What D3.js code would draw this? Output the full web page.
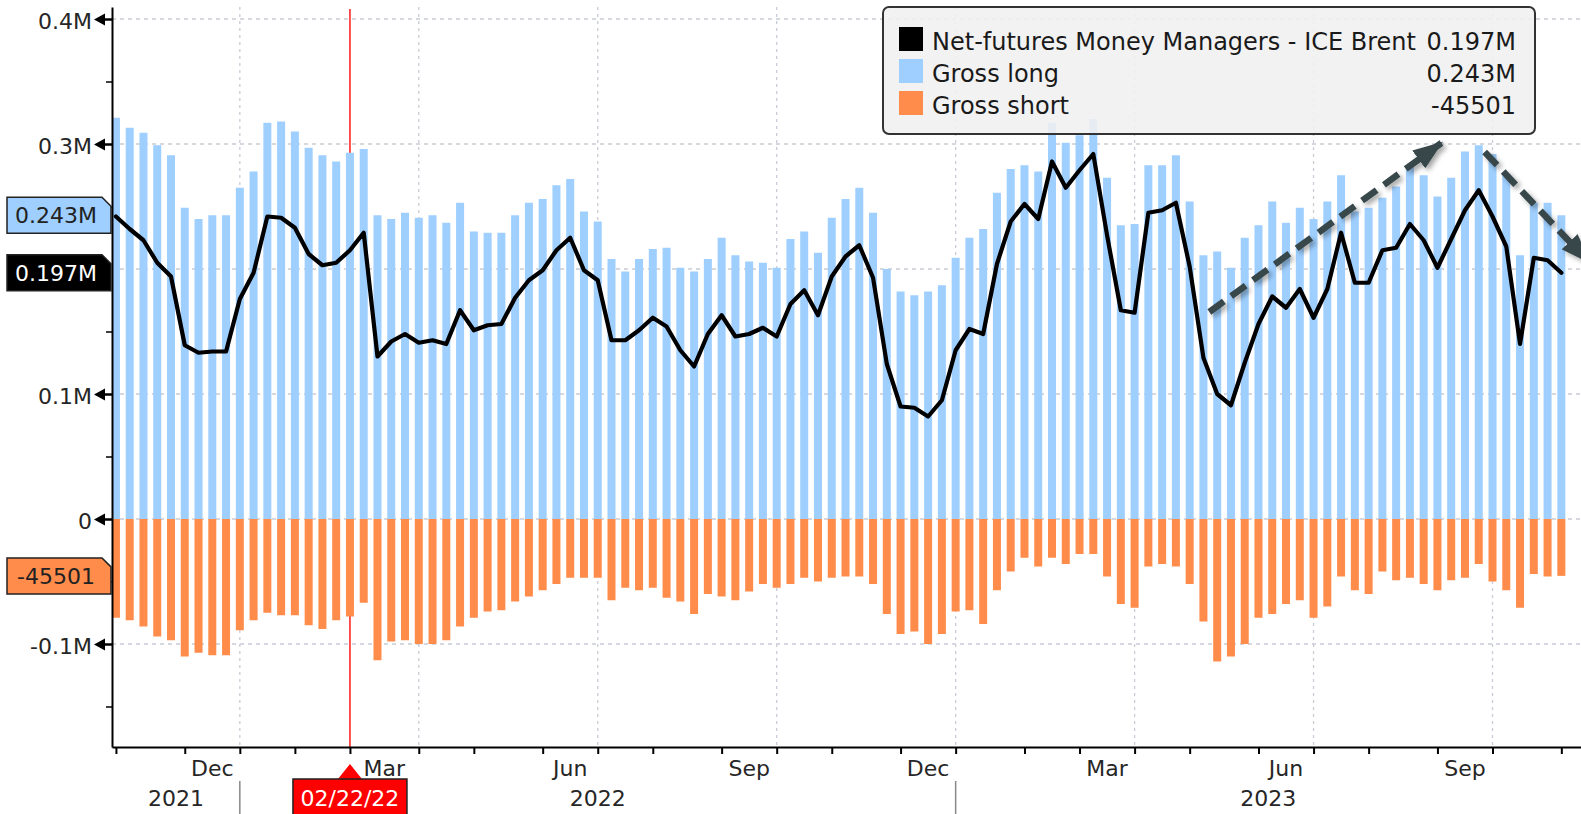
<!DOCTYPE html>
<html>
<head>
<meta charset="UTF-8">
<script src="https://cdn.jsdelivr.net/npm/d3@7/dist/d3.min.js"></script>
<style>
body{
    margin:0;
    background:#fff;
    font-family:"DejaVu Sans", Verdana, sans-serif;
}
.axis text{ font-size:22px; fill:#262626; }
.grid line{ stroke:#c9cbd6; stroke-width:1.3; }
</style>
</head>
<body>
<script>

// weekly values, in millions (Oct 26 2021 .. Oct 31 2023)
var grossLong = [0.321,0.313,0.309,0.299,0.291,0.249,0.240,0.243,0.243,0.265,
    0.278,0.317,0.318,0.310,0.297,0.291,0.286,0.293,0.296,0.243,
    0.240,0.245,0.241,0.243,0.237,0.253,0.230,0.229,0.229,0.243,
    0.253,0.256,0.267,0.272,0.246,0.238,0.208,0.198,0.208,0.216,
    0.217,0.201,0.198,0.208,0.225,0.211,0.206,0.205,0.201,0.224,
    0.230,0.213,0.241,0.256,0.265,0.245,0.200,0.182,0.179,0.182,
    0.187,0.209,0.225,0.232,0.261,0.280,0.283,0.278,0.317,0.301,
    0.307,0.320,0.273,0.235,0.236,0.283,0.283,0.291,0.254,0.211,
    0.214,0.201,0.225,0.235,0.254,0.237,0.249,0.240,0.254,0.275,
    0.246,0.249,0.257,0.266,0.283,0.275,0.258,0.273,0.294,0.299,
    0.292,0.275,0.211,0.253,0.253,0.243];

var grossShort = [-0.079,-0.081,-0.086,-0.094,-0.097,-0.110,-0.107,-0.109,-0.109,-0.089,
    -0.081,-0.075,-0.077,-0.077,-0.085,-0.088,-0.081,-0.078,-0.067,-0.113,
    -0.098,-0.097,-0.100,-0.100,-0.097,-0.086,-0.079,-0.074,-0.073,-0.066,
    -0.062,-0.057,-0.052,-0.047,-0.047,-0.047,-0.065,-0.055,-0.057,-0.055,
    -0.063,-0.066,-0.076,-0.060,-0.062,-0.065,-0.058,-0.052,-0.055,-0.052,
    -0.047,-0.050,-0.047,-0.046,-0.046,-0.052,-0.076,-0.092,-0.090,-0.100,
    -0.092,-0.074,-0.073,-0.084,-0.057,-0.042,-0.031,-0.038,-0.031,-0.036,
    -0.028,-0.028,-0.046,-0.068,-0.071,-0.038,-0.036,-0.038,-0.052,-0.082,
    -0.114,-0.110,-0.100,-0.079,-0.076,-0.068,-0.065,-0.079,-0.070,-0.046,
    -0.057,-0.060,-0.042,-0.049,-0.047,-0.052,-0.057,-0.049,-0.047,-0.036,
    -0.050,-0.057,-0.071,-0.044,-0.046,-0.0455];

var netFutures = [0.242,0.232,0.223,0.205,0.194,0.139,0.133,0.134,0.134,0.176,
    0.197,0.242,0.241,0.233,0.212,0.203,0.205,0.215,0.229,0.130,
    0.142,0.148,0.141,0.143,0.140,0.167,0.151,0.155,0.156,0.177,
    0.191,0.199,0.215,0.225,0.199,0.191,0.143,0.143,0.151,0.161,
    0.154,0.135,0.122,0.148,0.163,0.146,0.148,0.153,0.146,0.172,
    0.183,0.163,0.194,0.210,0.219,0.193,0.124,0.090,0.089,0.082,
    0.095,0.135,0.152,0.148,0.204,0.238,0.252,0.240,0.286,0.265,
    0.279,0.292,0.227,0.167,0.165,0.245,0.247,0.253,0.202,0.129,
    0.100,0.091,0.125,0.156,0.178,0.169,0.184,0.161,0.184,0.229,
    0.189,0.189,0.215,0.217,0.236,0.223,0.201,0.224,0.247,0.263,
    0.242,0.218,0.140,0.209,0.207,0.197];

var legendNames = ["Net-futures Money Managers - ICE Brent", "Gross long", "Gross short"];
var legendValues = ["0.197M", "0.243M", "-45501"];
var colors = ["#000000", "#9ecfff", "#ff8c4b"];
var yTicks = [-0.1, 0, 0.1, 0.3, 0.4];
var yMinor = [-0.15, -0.05, 0.05, 0.15, 0.25, 0.35];
var yGrid = [-0.1, 0, 0.1, 0.2, 0.3, 0.4];
var quarterMonths = {11:"Dec", 2:"Mar", 5:"Jun", 8:"Sep"};
var yearLabels = ["2021", "2022", "2023"];
var markerDate = new Date(2022, 1, 22);
var markerLabel = "02/22/22";
// trend annotations: [date, value] -> [date, value]
var trendArrows = [
    {from:[new Date(2023,4,5), 0.1656], to:[new Date(2023,7,31), 0.3008]},
    {from:[new Date(2023,8,22), 0.2936], to:[new Date(2023,10,14), 0.2056]}
];

var width = 1581, height = 814;
var plotL = 112, plotT = 7, plotB = 747, plotR = 1581;

var dates = d3.timeTuesday.range(new Date(2021, 9, 26), new Date(2023, 10, 1));
var data = dates.map(function(d, i){
    return {date:d, long:grossLong[i], short:grossShort[i], net:netFutures[i]};
});

var x = d3.scaleTime()
    .domain([new Date(2021, 9, 24), new Date(2023, 10, 10)])
    .range([plotL, plotR]);
var y = d3.scaleLinear()
    .domain([-0.1824, 0.4096])
    .range([plotB, plotT]);

var svg = d3.select("body").append("svg")
    .attr("width", width)
    .attr("height", height)
    .style("display", "block");

var defs = svg.append("defs");
defs.append("clipPath").attr("id", "plot")
    .append("rect").attr("x", plotL).attr("y", plotT).attr("width", plotR - plotL).attr("height", plotB - plotT);
var shadow = defs.append("filter").attr("id", "shadow")
    .attr("x", "-20%").attr("y", "-20%").attr("width", "140%").attr("height", "140%");
shadow.append("feDropShadow").attr("dx", 3).attr("dy", 3).attr("stdDeviation", 2.5)
    .attr("flood-color", "#000").attr("flood-opacity", 0.35);
defs.append("marker").attr("id", "head")
    .attr("viewBox", "0 0 30 22").attr("refX", 28).attr("refY", 11)
    .attr("markerWidth", 30).attr("markerHeight", 22)
    .attr("markerUnits", "userSpaceOnUse").attr("orient", "auto")
    .append("path").attr("d", "M0,0 L30,11 L0,22 Z").attr("fill", "#37474a");

// month-end ticks (last weekly date of each month)
var monthTicks = dates.filter(function(d, i){
    return i === dates.length - 1 || dates[i + 1].getMonth() !== d.getMonth();
});
var quarterTicks = monthTicks.filter(function(d){ return quarterMonths[d.getMonth()] !== undefined; });
var yearTicks = monthTicks.filter(function(d){ return d.getMonth() === 11; });

// grid
var grid = svg.append("g").attr("class", "grid");
grid.selectAll(".h").data(yGrid).enter().append("line")
    .attr("x1", plotL).attr("x2", plotR)
    .attr("y1", function(d){ return y(d); }).attr("y2", function(d){ return y(d); })
    .attr("stroke-dasharray", "4,4");
grid.selectAll(".v").data(quarterTicks).enter().append("line")
    .attr("x1", function(d){ return x(d); }).attr("x2", function(d){ return x(d); })
    .attr("y1", plotT).attr("y2", plotB)
    .attr("stroke-dasharray", "3,4");

// red marker line
svg.append("line")
    .attr("x1", x(markerDate)).attr("x2", x(markerDate))
    .attr("y1", plotT + 2).attr("y2", plotB)
    .attr("stroke", "#ff1a1a").attr("stroke-width", 1.5);

var plot = svg.append("g").attr("clip-path", "url(#plot)");
var bw = 8;
plot.selectAll(".long").data(data).enter().append("rect")
    .attr("x", function(d){ return x(d.date) - bw / 2; })
    .attr("width", bw)
    .attr("y", function(d){ return y(d.long); })
    .attr("height", function(d){ return y(0) - y(d.long); })
    .attr("fill", colors[1]);
plot.selectAll(".short").data(data).enter().append("rect")
    .attr("x", function(d){ return x(d.date) - bw / 2; })
    .attr("width", bw)
    .attr("y", y(0))
    .attr("height", function(d){ return y(d.short) - y(0); })
    .attr("fill", colors[2]);

var line = d3.line()
    .x(function(d){ return x(d.date); })
    .y(function(d){ return y(d.net); });
plot.append("path").datum(data)
    .attr("d", line)
    .attr("fill", "none")
    .attr("stroke", "#000")
    .attr("stroke-width", 4.2)
    .attr("stroke-linejoin", "round")
    .attr("stroke-linecap", "round");

// y axis
function fmt(v){
    if (v === 0) return "0";
    return (v < 0 ? "-" : "") + Math.abs(v).toFixed(1) + "M";
}
var gY = svg.append("g").attr("class", "axis")
    .attr("transform", "translate(" + plotL + ",0)")
    .call(d3.axisLeft(y).tickValues(yTicks).tickFormat(fmt).tickSize(0).tickPadding(20).tickSizeOuter(0));
gY.select(".domain").attr("stroke", "#000").attr("stroke-width", 2);
gY.selectAll(".tick text").attr("dy", "0.42em").style("font-family", "DejaVu Sans, sans-serif");
gY.selectAll(".tick").append("path")
    .attr("d", "M-18,0 L-7,-6 L-7,6 Z M-8,-1.2 L0,-1.2 L0,1.2 L-8,1.2 Z")
    .attr("fill", "#000");
var gYm = svg.append("g")
    .attr("transform", "translate(" + plotL + ",0)")
    .call(d3.axisLeft(y).tickValues(yMinor).tickFormat("").tickSize(6).tickSizeOuter(0));
gYm.select(".domain").remove();
gYm.selectAll("line").attr("stroke", "#000").attr("stroke-width", 1.5);

// x axis
var gX = svg.append("g").attr("class", "axis")
    .attr("transform", "translate(0," + plotB + ")")
    .call(d3.axisBottom(x).tickValues(monthTicks).tickFormat("").tickSize(7).tickSizeOuter(0));
gX.select(".domain").attr("stroke", "#000").attr("stroke-width", 2);
gX.selectAll(".tick line").attr("stroke", "#000").attr("stroke-width", 2);

var labelFont = "DejaVu Sans, sans-serif";
var monthLabels = quarterTicks.map(function(d){
    var i = monthTicks.indexOf(d);
    var prev = i > 0 ? x(monthTicks[i - 1]) : plotL;
    return {text:quarterMonths[d.getMonth()], cx:(prev + x(d)) / 2};
});
svg.selectAll(".mlab").data(monthLabels).enter().append("text")
    .attr("x", function(d){ return d.cx; })
    .attr("y", 776)
    .attr("text-anchor", "middle")
    .attr("font-size", 22).attr("font-family", labelFont).attr("fill", "#262626")
    .text(function(d){ return d.text; });

var bounds = [plotL].concat(yearTicks.map(x)).concat([plotR]);
svg.selectAll(".ylab").data(yearLabels).enter().append("text")
    .attr("x", function(d, i){ return (bounds[i] + bounds[i + 1]) / 2; })
    .attr("y", 806)
    .attr("text-anchor", "middle")
    .attr("font-size", 22).attr("font-family", labelFont).attr("fill", "#262626")
    .text(function(d){ return d; });
svg.selectAll(".ysep").data(yearTicks).enter().append("line")
    .attr("x1", function(d){ return x(d); }).attr("x2", function(d){ return x(d); })
    .attr("y1", 781).attr("y2", height)
    .attr("stroke", "#888").attr("stroke-width", 1.5);

// last value badges
var badges = [
    {v:grossLong[grossLong.length - 1], text:legendValues[1], fill:colors[1], color:"#222"},
    {v:netFutures[netFutures.length - 1], text:legendValues[0], fill:"#000", color:"#fff"},
    {v:grossShort[grossShort.length - 1], text:legendValues[2], fill:colors[2], color:"#222"}
];
var bg = svg.selectAll(".badge").data(badges).enter().append("g")
    .attr("transform", function(d){ return "translate(0," + y(d.v) + ")"; });
bg.append("path")
    .attr("d", "M7,-18 L102,-18 L111,-9 L111,18 L7,18 Z")
    .attr("fill", function(d){ return d.fill; })
    .attr("stroke", "#222").attr("stroke-width", 1.5);
bg.append("text")
    .attr("x", 56).attr("y", 8)
    .attr("text-anchor", "middle")
    .attr("font-size", 22).attr("font-family", labelFont)
    .attr("fill", function(d){ return d.color; })
    .text(function(d){ return d.text; });

// trend arrows
svg.selectAll(".trend").data(trendArrows).enter().append("line")
    .attr("x1", function(d){ return x(d.from[0]); }).attr("y1", function(d){ return y(d.from[1]); })
    .attr("x2", function(d){ return x(d.to[0]); }).attr("y2", function(d){ return y(d.to[1]); })
    .attr("stroke", "#37474a").attr("stroke-width", 6.5)
    .attr("stroke-dasharray", "18,9")
    .attr("marker-end", "url(#head)")
    .attr("filter", "url(#shadow)");

// legend
var lg = svg.append("g").attr("transform", "translate(883,7)");
lg.append("rect")
    .attr("width", 652).attr("height", 127).attr("rx", 6)
    .attr("fill", "#f0f0f0").attr("fill-opacity", 0.88)
    .attr("stroke", "#333").attr("stroke-width", 2);
var rows = lg.selectAll(".row").data(legendNames).enter().append("g")
    .attr("transform", function(d, i){ return "translate(0," + (i * 32) + ")"; });
rows.append("rect")
    .attr("x", 16).attr("y", 20).attr("width", 24).attr("height", 24)
    .attr("fill", function(d, i){ return colors[i]; });
rows.append("text")
    .attr("x", 49).attr("y", 43)
    .attr("font-size", 24).attr("font-family", labelFont).attr("fill", "#1a1a1a")
    .text(function(d){ return d; });
rows.append("text")
    .attr("x", 633).attr("y", 43)
    .attr("text-anchor", "end")
    .attr("font-size", 24).attr("font-family", labelFont).attr("fill", "#1a1a1a")
    .text(function(d, i){ return legendValues[i]; });

// date marker label
var mx = x(markerDate);
svg.append("path")
    .attr("d", "M" + (mx - 12) + ",779 L" + mx + ",764 L" + (mx + 12) + ",779 Z")
    .attr("fill", "#ff0000");
svg.append("rect")
    .attr("x", mx - 57).attr("y", 779).attr("width", 114).attr("height", 40)
    .attr("fill", "#ff0000").attr("stroke", "#222").attr("stroke-width", 1.5);
svg.append("text")
    .attr("x", mx).attr("y", 806)
    .attr("text-anchor", "middle")
    .attr("font-size", 22).attr("font-family", labelFont).attr("fill", "#fff")
    .text(markerLabel);

</script>
</body>
</html>
